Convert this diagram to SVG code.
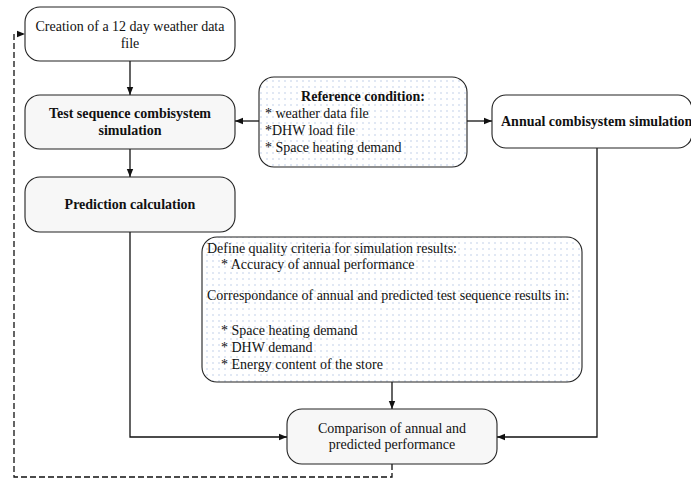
<svg xmlns="http://www.w3.org/2000/svg" width="691" height="478" viewBox="0 0 691 478">
<style>
.box{stroke:#222;stroke-width:1.1}
.white{fill:#ffffff}
.gray{fill:#f7f7f7}
.dots{fill:url(#dotpat)}
.t{font-family:"Liberation Serif","Times New Roman",serif;font-size:14px;fill:#111}
.b{font-weight:bold}
.c{text-anchor:middle}
.conn{fill:none;stroke:#111;stroke-width:1.3}
.dash{fill:none;stroke:#111;stroke-width:1.3;stroke-dasharray:6 3}
</style>
<defs>
<pattern id="dotpat" width="6" height="6" patternUnits="userSpaceOnUse">
<rect width="6" height="6" fill="#ffffff"/>
<circle cx="3" cy="3" r="0.75" fill="#b4c6e4"/>
</pattern>
<marker id="arr" markerWidth="8" markerHeight="8" refX="8" refY="4" orient="auto" markerUnits="userSpaceOnUse">
<path d="M0,0.8 L8,4 L0,7.2 Z" fill="#111"/>
</marker>
</defs>
<rect width="691" height="478" fill="#ffffff"/>
<g id="connectors">
<path class="conn" d="M130,61 V95" marker-end="url(#arr)"/>
<path class="conn" d="M130,149 V177" marker-end="url(#arr)"/>
<path class="conn" d="M259,121 H235" marker-end="url(#arr)"/>
<path class="conn" d="M467,121 H492" marker-end="url(#arr)"/>
<path class="conn" d="M130,232 V437 H287" marker-end="url(#arr)"/>
<path class="conn" d="M597,148 V437 H497" marker-end="url(#arr)"/>
<path class="conn" d="M392,382 V409" marker-end="url(#arr)"/>
<path class="dash" d="M392,464 V477 H14 V34 H25" marker-end="url(#arr)"/>
</g>
<g id="creation">
<rect class="box white" x="25" y="7" width="210" height="54" rx="15"/>
<text class="t c" x="130" y="31">Creation of a 12 day weather data</text>
<text class="t c" x="130" y="48">file</text>
</g>
<g id="test-sequence">
<rect class="box gray" x="25" y="95" width="210" height="54" rx="15"/>
<text class="t b c" x="130" y="118">Test sequence combisystem</text>
<text class="t b c" x="130" y="135">simulation</text>
</g>
<g id="prediction">
<rect class="box gray" x="25" y="177" width="210" height="55" rx="15"/>
<text class="t b c" x="130" y="209">Prediction calculation</text>
</g>
<g id="reference">
<rect class="box dots" x="259" y="77" width="208" height="90" rx="15"/>
<text class="t b c" x="363" y="101">Reference condition:</text>
<text class="t" x="265" y="118">* weather data file</text>
<text class="t" x="265" y="135">*DHW load file</text>
<text class="t" x="265" y="152">* Space heating demand</text>
</g>
<g id="annual">
<rect class="box white" x="492" y="95" width="200" height="53" rx="14"/>
<text class="t b" x="501" y="126">Annual combisystem simulation</text>
</g>
<g id="criteria">
<rect class="box dots" x="202" y="237" width="380" height="145" rx="15"/>
<text class="t" x="207" y="253">Define quality criteria for simulation results:</text>
<text class="t" x="221" y="269">* Accuracy of annual performance</text>
<text class="t" x="207" y="300">Correspondance of annual and predicted test sequence results in:</text>
<text class="t" x="221" y="335">* Space heating demand</text>
<text class="t" x="221" y="352">* DHW demand</text>
<text class="t" x="221" y="369">* Energy content of the store</text>
</g>
<g id="comparison">
<rect class="box gray" x="287" y="409" width="210" height="55" rx="15"/>
<text class="t c" x="392" y="433">Comparison of annual and</text>
<text class="t c" x="392" y="449">predicted performance</text>
</g>
</svg>
